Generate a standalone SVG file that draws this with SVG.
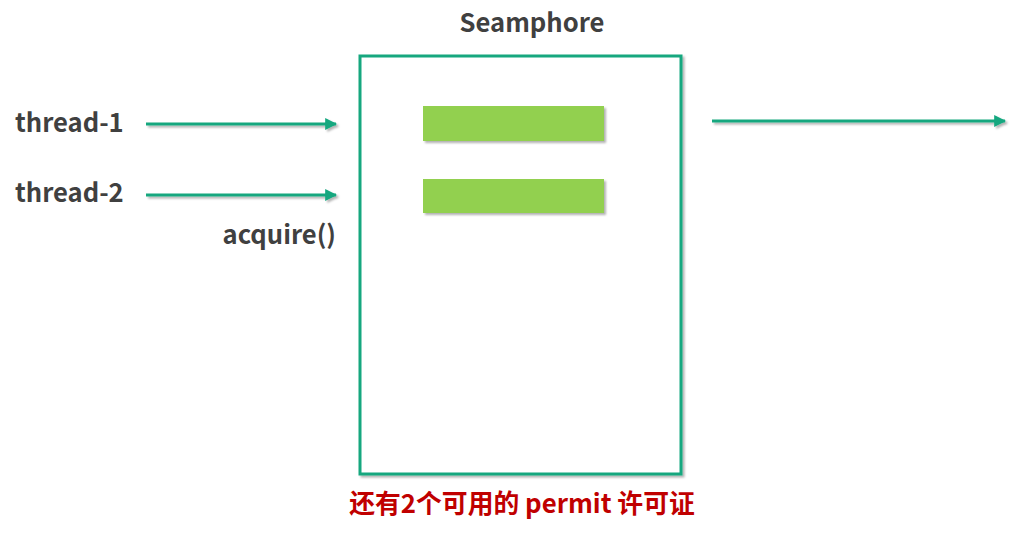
<svg xmlns="http://www.w3.org/2000/svg" width="1024" height="536" viewBox="0 0 1024 536">
<style>
.lbl{font-family:"Noto Sans CJK SC","Noto Sans",sans-serif;font-weight:bold;font-size:25.6px;fill:#404040}
.red{font-family:"Noto Sans CJK SC","Noto Sans",sans-serif;font-weight:bold;font-size:25.8px;fill:#C00000}
.conn{stroke:#13A77F;stroke-width:3;fill:none;marker-end:url(#ah)}
.bar{fill:#92D050}
</style>
<defs>
<marker id="ah" viewBox="0 0 10 10" refX="9" refY="5" markerWidth="4" markerHeight="4" orient="auto" markerUnits="strokeWidth">
<path d="M0,0 L10,5 L0,10 z" fill="#13A77F"/>
</marker>
<filter id="sh" x="-10%" y="-10%" width="130%" height="140%">
<feDropShadow dx="2" dy="2" stdDeviation="1.2" flood-color="#000" flood-opacity="0.3"/>
</filter>
</defs>
<rect width="1024" height="536" fill="#fff"/>
<g id="seamphore">
<text class="lbl" x="532" y="32" text-anchor="middle">Seamphore</text>
<rect x="360" y="56" width="321" height="418" fill="#fff" stroke="#13A77F" stroke-width="3" filter="url(#sh)"/>
<rect id="permit-1" class="bar" x="423" y="106" width="181" height="35" filter="url(#sh)"/>
<rect id="permit-2" class="bar" x="423" y="179" width="181" height="34" filter="url(#sh)"/>
<text class="red" x="522" y="513" text-anchor="middle">还有2个可用的 permit 许可证</text>
</g>
<g id="thread-1"><text class="lbl" x="15" y="132">thread-1</text></g>
<g id="thread-2"><text class="lbl" x="15" y="202">thread-2</text></g>
<g id="acquire"><text class="lbl" x="336" y="244" text-anchor="end">acquire()</text></g>
<g id="connectors" filter="url(#sh)">
<line class="conn" x1="146" y1="124" x2="336" y2="124"/>
<line class="conn" x1="146" y1="195" x2="336" y2="195"/>
<line class="conn" x1="712" y1="121" x2="1005" y2="121"/>
</g>
</svg>
